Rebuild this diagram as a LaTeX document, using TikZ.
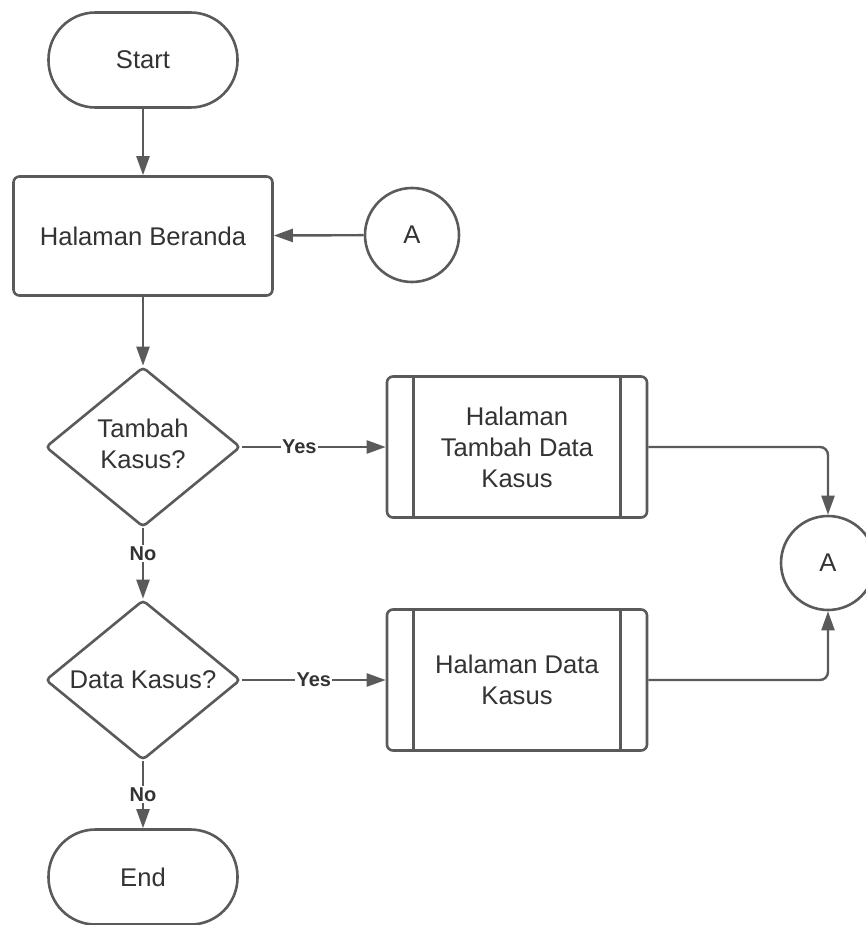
\documentclass[tikz,border=0pt]{standalone}
\usepackage{fontspec}
\setmainfont{Liberation Sans}
\usetikzlibrary{shapes.geometric,arrows.meta}
\definecolor{ln}{RGB}{90,90,90}
\definecolor{tx}{RGB}{51,51,51}
\begin{document}
\begin{tikzpicture}[x=1pt,y=-1pt,
  every node/.style={text=tx,font=\fontsize{25.6}{31}\selectfont,align=center},
  shp/.style={draw=ln,line width=2.6pt,fill=white,inner sep=0pt},
  term/.style={shp,rectangle,minimum width=189pt,minimum height=95pt,rounded corners=47pt},
  procbox/.style={shp,rectangle,minimum width=259pt,minimum height=119pt,rounded corners=6pt},
  subproc/.style={shp,rectangle,minimum width=260pt,minimum height=141pt,rounded corners=6pt},
  dec/.style={shp,diamond,minimum width=195pt,minimum height=160pt,rounded corners=4pt},
  conn/.style={shp,circle,minimum size=94pt},
  arr/.style={draw=ln,line width=2.4pt,-{Triangle[length=19pt,width=13pt]}},
  lbl/.style={fill=white,inner sep=1.5pt,font=\fontsize{20}{22}\bfseries\selectfont}
]
\useasboundingbox (0,0) rectangle (866,925);
\node[term] (start) at (143,60) {Start};
\node[procbox] (beranda) at (143,236) {Halaman Beranda};
\node[conn] (a1) at (412,235) {A};
\node[dec,label={[align=center,text=tx,yshift=3pt]center:Tambah\\Kasus?}] (d1) at (143,447) {};
\node[subproc] (p1) at (517,447) {Halaman\\Tambah Data\\Kasus};
\node[dec,label={[text=tx]center:Data Kasus?}] (d2) at (143,680) {};
\node[subproc] (p2) at (517,680) {Halaman Data\\Kasus};
\node[conn] (a2) at (828,563) {A};
\node[term] (end) at (143,877) {End};

\foreach \p in {p1,p2}{
  \draw[ln,line width=2.6pt] ([xshift=28pt]\p.north west) -- ([xshift=28pt]\p.south west);
  \draw[ln,line width=2.6pt] ([xshift=-28pt]\p.north east) -- ([xshift=-28pt]\p.south east);
}

\draw[arr] (start) -- (beranda);
\draw[arr] (a1) -- (beranda);
\draw[arr] (beranda) -- (d1);
\draw[arr] (d1.east) -- node[lbl,pos=0.4] {Yes} (p1.west);
\draw[arr,rounded corners=8pt] (p1.east) -| (a2.north);
\draw[arr] (d1.south) -- node[lbl,pos=0.36] {No} (d2.north);
\draw[arr] (d2.east) -- node[lbl,pos=0.5] {Yes} (p2.west);
\draw[arr,rounded corners=8pt] (p2.east) -| (a2.south);
\draw[arr] (d2.south) -- node[lbl,pos=0.5] {No} (end.north);
\end{tikzpicture}
\end{document}
